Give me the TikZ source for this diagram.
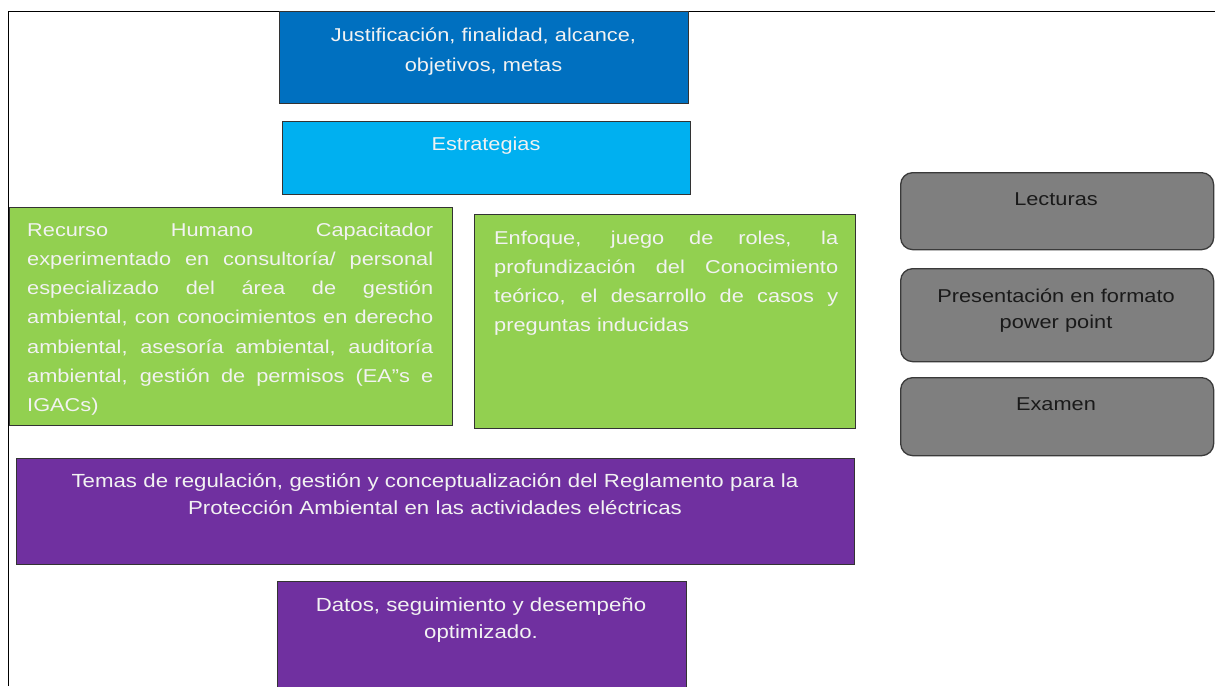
\documentclass[tikz,border=0pt]{standalone}
\usepackage{fontspec}
\setmainfont{Liberation Sans}[FakeStretch=1.17]
\definecolor{dblue}{HTML}{0070C0}
\definecolor{lblue}{HTML}{00B0F0}
\definecolor{lgreen}{HTML}{92D050}
\definecolor{purp}{HTML}{7030A0}
\definecolor{gbox}{HTML}{7F7F7F}
\definecolor{gline}{HTML}{3A3A3A}
\definecolor{wtext}{HTML}{F2F2F2}
\definecolor{dtext}{HTML}{1A1A1A}
\newcommand{\jfont}{\fontsize{18.6}{29.3}\selectfont\tolerance=10000\relax\hbadness=10000\relax}
\begin{document}
\begin{tikzpicture}[x=1pt,y=-1pt,
  box/.style={draw=black!80, line width=1.3pt, inner sep=0pt, anchor=north west},
  rbox/.style={draw=gline, line width=1.3pt, fill=gbox, rounded corners=12pt, inner sep=0pt, anchor=north west, minimum width=313pt},
  wtxt/.style={inner sep=0pt, text=wtext, anchor=base, align=center},
  dtxt/.style={inner sep=0pt, text=dtext, anchor=base, align=center, text width=300pt},
  jtxt/.style={inner sep=0pt, text=wtext, anchor=base west, align=justify}]
\useasboundingbox (0,0) rectangle (1215,686);
% frame
\draw[line width=1pt, black] (8,686) -- (8,11) -- (1215,11);
% boxes
\node[box, fill=dblue, minimum width=409pt, minimum height=92pt] (b1) at (279,11) {};
\node[box, fill=lblue, minimum width=408pt, minimum height=73pt] (b2) at (282,121) {};
\node[box, fill=lgreen, minimum width=443pt, minimum height=218pt] (g1) at (9,207) {};
\node[box, fill=lgreen, minimum width=381pt, minimum height=214pt] (g2) at (474,214) {};
\node[box, fill=purp, minimum width=838pt, minimum height=106pt] (p1) at (16,458) {};
\node[box, fill=purp, minimum width=409pt, minimum height=112pt] (p2) at (277,581) {};
\node[rbox, minimum height=77pt] (r1) at (900,172) {};
\node[rbox, minimum height=93pt] (r2) at (900,268) {};
\node[rbox, minimum height=78pt] (r3) at (900,377) {};
% texts
\node[wtxt, text width=400pt, font=\fontsize{18.6}{30}\selectfont] (t1) at (483.5,41) {Justificación, finalidad, alcance,\\objetivos, metas};
\node[wtxt, text width=400pt, font=\fontsize{18.6}{30}\selectfont] (t2) at (486,150) {Estrategias};
\node[jtxt, text width=406pt, font=\jfont] (tg1) at (27,236) {Recurso Humano Capacitador\linebreak experimentado en consultoría/ personal\linebreak especializado del área de gestión\linebreak ambiental, con conocimientos en derecho\linebreak ambiental, asesoría ambiental, auditoría\linebreak ambiental, gestión de permisos (EA"s e\linebreak IGACs)};
\node[jtxt, text width=344pt, font=\jfont] (tg2) at (494,244) {Enfoque, juego de roles, la\linebreak profundización del Conocimiento\linebreak teórico, el desarrollo de casos y\linebreak preguntas inducidas};
\node[wtxt, text width=820pt, font=\fontsize{19}{27}\selectfont] (tp1) at (435,487) {Temas de regulación, gestión y conceptualización del Reglamento para la\\Protección Ambiental en las actividades eléctricas};
\node[wtxt, text width=400pt, font=\fontsize{19}{27}\selectfont] (tp2) at (481,611) {Datos, seguimiento y desempeño\\optimizado.};
\node[dtxt, font=\fontsize{18.6}{26}\selectfont] (tr1) at (1056,205) {Lecturas};
\node[dtxt, font=\fontsize{18.6}{26}\selectfont] (tr2) at (1056,302) {Presentación en formato\\power point};
\node[dtxt, font=\fontsize{18.6}{26}\selectfont] (tr3) at (1056,410) {Examen};
\end{tikzpicture}
\end{document}
